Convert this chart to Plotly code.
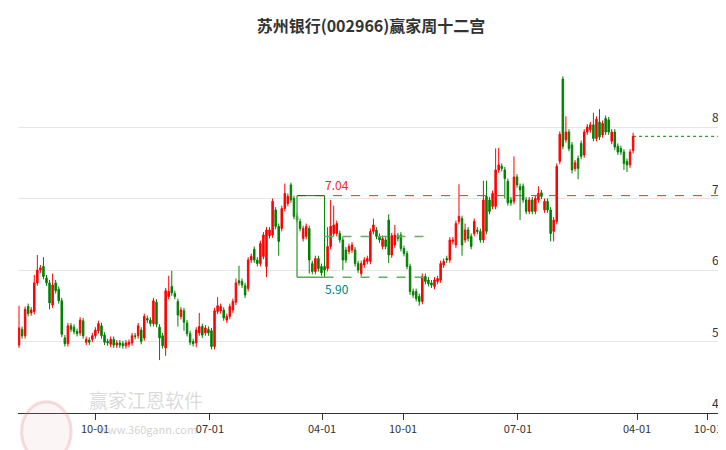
import plotly.graph_objects as go

opens = [4.95,5.17,5.08,5.49,5.40,5.42,5.82,6.00,6.05,5.89,5.82,5.51,5.82,5.73,5.57,5.05,4.97,5.22,5.20,5.14,
5.12,5.29,4.99,5.02,5.03,5.08,5.15,5.22,5.09,5.00,4.96,5.03,4.95,4.98,4.97,4.94,4.96,4.98,5.08,5.08,
5.16,5.05,5.32,5.30,5.25,5.55,5.20,5.08,4.91,5.63,5.77,5.67,5.56,5.35,5.43,5.26,5.11,5.00,4.98,5.12,
5.21,5.12,5.17,5.15,4.93,5.42,5.43,5.44,5.30,5.35,5.44,5.55,5.85,5.84,5.78,5.74,6.14,6.29,6.14,6.09,
6.19,6.05,6.48,6.49,6.84,6.61,6.58,6.86,6.93,7.19,7.00,6.75,6.68,6.44,6.47,6.58,6.09,5.98,6.16,6.05,
6.05,6.02,6.33,6.51,6.51,6.51,6.42,6.28,6.26,6.28,6.28,6.09,5.95,6.07,6.12,6.12,6.54,6.56,6.47,6.33,
6.42,6.70,6.21,6.35,6.48,6.49,6.30,6.23,6.05,5.70,5.70,5.63,5.56,5.91,5.86,5.82,5.77,5.84,5.86,6.07,
6.16,6.14,6.40,6.35,6.68,6.72,6.42,6.56,6.47,6.51,6.56,6.54,6.42,7.03,6.98,6.89,6.89,7.40,7.45,7.40,
7.24,6.98,6.96,7.30,7.17,7.17,6.98,6.82,6.98,6.82,6.98,7.08,6.84,6.96,6.84,6.54,6.68,7.52,8.67,7.82,
7.93,7.75,7.42,7.56,7.77,7.61,7.93,7.96,8.03,7.84,8.07,7.89,8.12,8.10,7.80,7.93,7.73,7.70,7.65,7.52,
7.47,7.67]
closes = [5.19,5.08,5.45,5.39,5.44,5.82,6.00,6.03,5.91,5.82,5.54,5.79,5.71,5.57,5.10,4.97,5.22,5.17,5.14,5.11,
5.30,5.08,5.03,4.99,5.08,5.16,5.25,5.08,4.99,4.98,5.03,4.95,4.98,4.95,4.94,4.98,4.99,5.08,5.07,5.22,
5.00,5.35,5.30,5.25,5.57,5.24,5.05,4.94,5.71,5.70,5.68,5.63,5.37,5.44,5.27,5.11,4.99,4.97,5.16,5.21,
5.09,5.19,5.12,4.93,5.43,5.50,5.49,5.33,5.35,5.49,5.56,5.82,5.82,5.79,5.65,6.14,6.19,6.14,6.09,6.37,
6.49,6.56,6.56,6.96,6.61,6.40,6.86,7.07,7.03,6.98,6.75,6.70,6.58,6.58,6.61,6.14,5.98,6.16,6.02,5.96,
6.00,6.33,6.61,6.63,6.65,6.42,6.14,6.14,6.33,6.35,6.09,6.00,6.09,6.14,6.16,6.54,6.63,6.47,6.42,6.44,
6.33,6.21,6.48,6.49,6.44,6.30,6.23,6.05,5.70,5.65,5.60,5.56,5.91,5.84,5.81,5.79,5.86,5.88,6.09,6.12,
6.14,6.42,6.42,6.65,6.75,6.35,6.56,6.44,6.33,6.68,6.54,6.42,6.98,6.54,6.82,7.07,7.40,7.47,7.42,7.28,
6.94,6.94,7.30,7.19,7.12,6.98,6.82,6.98,6.82,7.00,7.07,7.03,6.96,6.84,6.51,6.70,7.45,7.90,7.73,7.93,
7.70,7.40,7.50,7.42,7.59,7.93,8.00,8.03,7.84,8.11,7.86,8.05,7.93,7.93,7.93,7.72,7.65,7.65,7.49,7.47,
7.65,7.87]

# wick extremes where they stand out (candle index -> price); others sit just past the body
high_marks = {0:5.50,5:5.93,6:6.21,8:6.18,11:5.95,49:5.92,50:5.99,59:5.40,65:5.62,71:5.88,72:6.06,
              83:7.00,87:7.21,89:7.22,101:6.60,102:6.98,103:6.90,116:6.72,121:6.78,123:6.63,144:7.20,146:6.65,
              152:7.25,153:7.25,156:7.70,157:7.71,162:7.59,170:7.17,179:8.15,188:8.20,190:8.25,201:7.92}
low_marks = {10:5.45,46:4.74,48:4.80,52:5.21,54:5.15,58:4.92,81:5.90,85:6.20,95:5.95,106:6.00,121:6.10,
             128:5.65,131:5.50,145:6.20,159:7.00,164:6.70,174:6.40,175:6.40,181:7.35,183:7.27,198:7.40,199:7.37}
highs = [high_marks.get(i, max(o, c) + 0.04) for i, (o, c) in enumerate(zip(opens, closes))]
lows = [low_marks.get(i, min(o, c) - 0.04) for i, (o, c) in enumerate(zip(opens, closes))]
idx = list(range(len(closes)))

tick_pos = [24.9, 62.5, 99.2, 125.7, 163.3, 202.3, 225.5]
tick_text = ["10-01", "07-01", "04-01", "10-01", "07-01", "04-01", "10-01"]
y_ticks = [4, 5, 6, 7, 8]
y_labels = ["4.00", "5.00", "6.00", "7.00", "8.00"]
box_top, box_bot = 7.04, 5.90
box_l, box_r, dash_end = 91, 100, 133
mid_level = 6.47

fig = go.Figure(go.Candlestick(
    x=idx, open=opens, high=highs, low=lows, close=closes,
    increasing=dict(line=dict(color="#ff0000", width=1), fillcolor="#ff0000"),
    decreasing=dict(line=dict(color="#008000", width=1), fillcolor="#008000"),
    whiskerwidth=0, showlegend=False, hoverinfo="skip"))

last = len(closes) - 1
fig.add_shape(type="line", x0=box_l, x1=232, y0=box_top, y1=box_top, line=dict(color="#e03030", width=1, dash="dash"))
fig.add_shape(type="line", x0=last, x1=232, y0=closes[-1], y1=closes[-1], line=dict(color="#008000", width=1, dash="dot"))
fig.add_shape(type="rect", x0=box_l, x1=box_r, y0=box_bot, y1=box_top, line=dict(color="#008000", width=1))
fig.add_shape(type="line", x0=box_l, x1=box_l, y0=box_bot, y1=box_top, line=dict(color="#7fc07f", width=1))
fig.add_shape(type="line", x0=box_r, x1=dash_end, y0=box_bot, y1=box_bot, line=dict(color="#60b060", width=1.5, dash="dash"))
fig.add_shape(type="line", x0=box_r, x1=dash_end, y0=mid_level, y1=mid_level, line=dict(color="#60b060", width=1.5, dash="dash"))
fig.add_annotation(x=box_r + 4, y=box_top, text="7.04", showarrow=False, yshift=11, font=dict(color="#ff2020", size=12))
fig.add_annotation(x=box_r + 4, y=box_bot, text="5.90", showarrow=False, yshift=-11, font=dict(color="#008080", size=12))

for v, t in zip(y_ticks, y_labels):
    fig.add_annotation(xref="paper", y=v, x=0.978, text=t, showarrow=False, xanchor="left", yanchor="bottom",
                       font=dict(size=12, color="#333"))

fig.add_shape(type="circle", xref="paper", yref="paper", x0=0.005, x1=0.075, y0=-0.13, y1=0.03,
              line=dict(color="rgba(220,120,120,0.25)", width=3), fillcolor="rgba(230,170,170,0.12)")
fig.add_annotation(xref="paper", yref="paper", x=0.097, y=-0.005, text="赢家江恩软件", showarrow=False, xanchor="left",
                   font=dict(size=19, color="rgba(150,150,150,0.35)", family="Noto Sans CJK SC"))
fig.add_annotation(xref="paper", yref="paper", x=0.112, y=-0.07, text="www.360gann.com", showarrow=False, xanchor="left",
                   font=dict(size=11, color="rgba(150,150,150,0.45)"))

fig.update_layout(
    width=726, height=450, paper_bgcolor="white", plot_bgcolor="white",
    margin=dict(l=10, r=8, t=32, b=45),
    title=dict(text="<b>苏州银行(002966)赢家周十二宫</b>", x=0.5, y=0.972, xanchor="center",
               font=dict(size=16, color="#333333", family="Noto Sans CJK SC")),
    xaxis=dict(range=[-0.33, 231.4], tickmode="array", tickvals=tick_pos, ticktext=tick_text,
               showgrid=False, rangeslider=dict(visible=False), showline=True, linecolor="#333", linewidth=1,
               ticks="outside", ticklen=6, tickcolor="#333", tickfont=dict(size=11, color="#333"), zeroline=False),
    yaxis=dict(range=[4, 9.217], side="right", tickvals=y_ticks, showticklabels=False,
               gridcolor="#e6e6e6", zeroline=False, showline=False),
    font=dict(family="Noto Sans CJK SC"))

fig.write_html("out.html")
